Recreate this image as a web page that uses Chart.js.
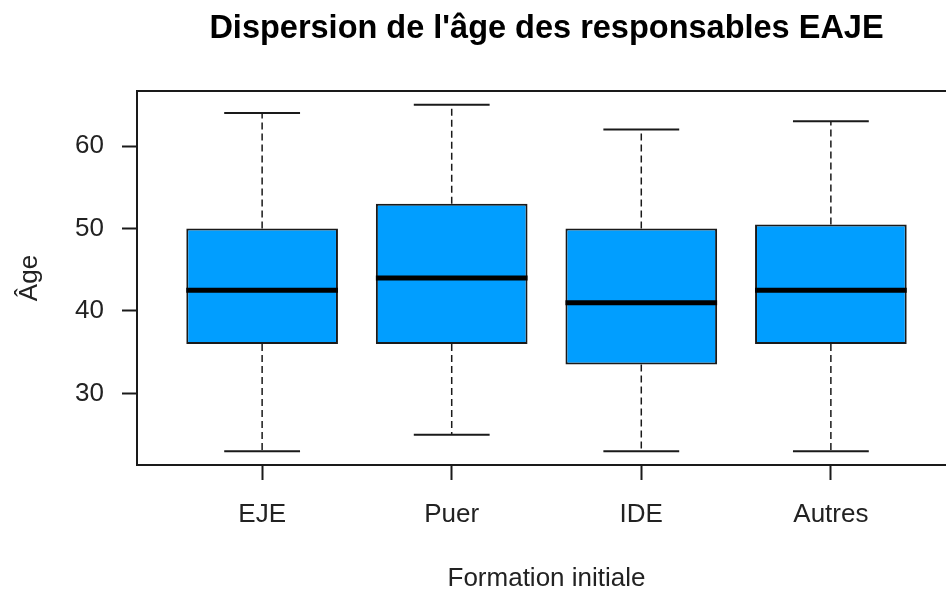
<!DOCTYPE html>
<html>
<head>
<meta charset="utf-8">
<script src="https://cdn.jsdelivr.net/npm/chart.js@4/dist/chart.umd.min.js"></script>
<style>
  html, body { margin: 0; padding: 0; background: #fff; overflow: hidden; }
  .wrap { width: 946px; height: 592px; overflow: hidden; }
</style>
</head>
<body>
<div class="wrap"><canvas id="myChart" width="956" height="592"></canvas></div>
<script>
// data
let categories = ['EJE', 'Puer', 'IDE', 'Autres'];
let whiskerLow = [23, 25, 23, 23];
let q1 = [36, 36, 33.5, 36];
let medians = [42.5, 44, 41, 42.5];
let q3 = [50, 53, 50, 50.5];
let whiskerHigh = [64, 65, 62, 63];
let yTicks = [30, 40, 50, 60];

let chartTitle = "Dispersion de l'âge des responsables EAJE";
let boxColor = '#019eff';
let lineColor = '#1a1a1a';

// box data for the floating bars
let boxData = categories.map(function (c, i) {
    return { x: i + 1, y: [q1[i], q3[i]] };
});

// whiskers, caps, medians, the frame round the plot and the title
let boxPlotExtras = {
    id: 'boxPlotExtras',
    afterDatasetsDraw: function (chart) {
        let ctx = chart.ctx;
        let xs = chart.scales.x;
        let ys = chart.scales.y;
        let meta = chart.getDatasetMeta(0);
        ctx.save();
        categories.forEach(function (c, i) {
            let x = xs.getPixelForValue(i + 1);
            let bar = meta.data[i];
            let half = bar.width / 2;
            let cap = half / 2;
            // dashed whiskers
            ctx.strokeStyle = lineColor;
            ctx.lineWidth = 1.5;
            ctx.setLineDash([7, 4]);
            ctx.beginPath();
            ctx.moveTo(x, ys.getPixelForValue(q3[i]));
            ctx.lineTo(x, ys.getPixelForValue(whiskerHigh[i]));
            ctx.moveTo(x, ys.getPixelForValue(q1[i]));
            ctx.lineTo(x, ys.getPixelForValue(whiskerLow[i]));
            ctx.stroke();
            // caps
            ctx.setLineDash([]);
            ctx.lineWidth = 2;
            ctx.beginPath();
            ctx.moveTo(x - cap, ys.getPixelForValue(whiskerHigh[i]));
            ctx.lineTo(x + cap, ys.getPixelForValue(whiskerHigh[i]));
            ctx.moveTo(x - cap, ys.getPixelForValue(whiskerLow[i]));
            ctx.lineTo(x + cap, ys.getPixelForValue(whiskerLow[i]));
            ctx.stroke();
            // median
            ctx.strokeStyle = '#000';
            ctx.lineWidth = 5;
            ctx.beginPath();
            ctx.moveTo(x - half, ys.getPixelForValue(medians[i]));
            ctx.lineTo(x + half, ys.getPixelForValue(medians[i]));
            ctx.stroke();
        });
        // frame
        let a = chart.chartArea;
        ctx.strokeStyle = lineColor;
        ctx.lineWidth = 2;
        ctx.strokeRect(a.left, a.top, a.right - a.left, a.bottom - a.top);
        // title centred over the plot, like R does
        ctx.fillStyle = '#000';
        ctx.font = 'bold 32.5px "Liberation Sans"';
        ctx.textAlign = 'center';
        ctx.textBaseline = 'middle';
        ctx.fillText(chartTitle, (a.left + a.right) / 2, 29);
        ctx.restore();
    }
};

let ctx = document.getElementById('myChart').getContext('2d');
let chart = new Chart(ctx, {
    type: 'bar',
    data: {
        datasets: [{
            label: 'Âge',
            data: boxData,
            backgroundColor: boxColor,
            borderColor: lineColor,
            borderWidth: 2,
            borderSkipped: false,
            categoryPercentage: 0.8,
            barPercentage: 1.0
        }]
    },
    options: {
        responsive: false,
        animation: false,
        devicePixelRatio: 1,
        layout: { padding: { top: 91 } },
        plugins: {
            legend: { display: false },
            tooltip: { enabled: false },
            title: { display: false }
        },
        scales: {
            x: {
                type: 'linear',
                min: 0.34,
                max: 4.66,
                offset: false,
                afterBuildTicks: function (scale) {
                    scale.ticks = categories.map(function (c, i) { return { value: i + 1 }; });
                },
                afterFit: function (scale) { scale.height = 127; },
                ticks: {
                    callback: function (v) { return categories[v - 1]; },
                    color: '#222',
                    font: { family: 'Liberation Sans', size: 26 },
                    padding: 19,
                    maxRotation: 0
                },
                grid: { offset: false, drawOnChartArea: false, drawTicks: true, tickLength: 15, tickColor: lineColor, tickWidth: 2 },
                border: { display: false },
                title: {
                    display: true,
                    text: 'Formation initiale',
                    color: '#222',
                    font: { family: 'Liberation Sans', size: 26, lineHeight: 1.0 },
                    padding: { top: 0, bottom: 0 }
                }
            },
            y: {
                min: 21.32,
                max: 66.68,
                afterBuildTicks: function (scale) {
                    scale.ticks = yTicks.map(function (t) { return { value: t }; });
                },
                afterFit: function (scale) { scale.width = 137; },
                ticks: {
                    color: '#222',
                    font: { family: 'Liberation Sans', size: 26 },
                    padding: 18
                },
                grid: { drawOnChartArea: false, drawTicks: true, tickLength: 15, tickColor: lineColor, tickWidth: 2 },
                border: { display: false },
                title: {
                    display: true,
                    text: 'Âge',
                    color: '#222',
                    font: { family: 'Liberation Sans', size: 26, lineHeight: 1.0 },
                    padding: { top: 17, bottom: 0 }
                }
            }
        }
    },
    plugins: [boxPlotExtras]
});
</script>
</body>
</html>
